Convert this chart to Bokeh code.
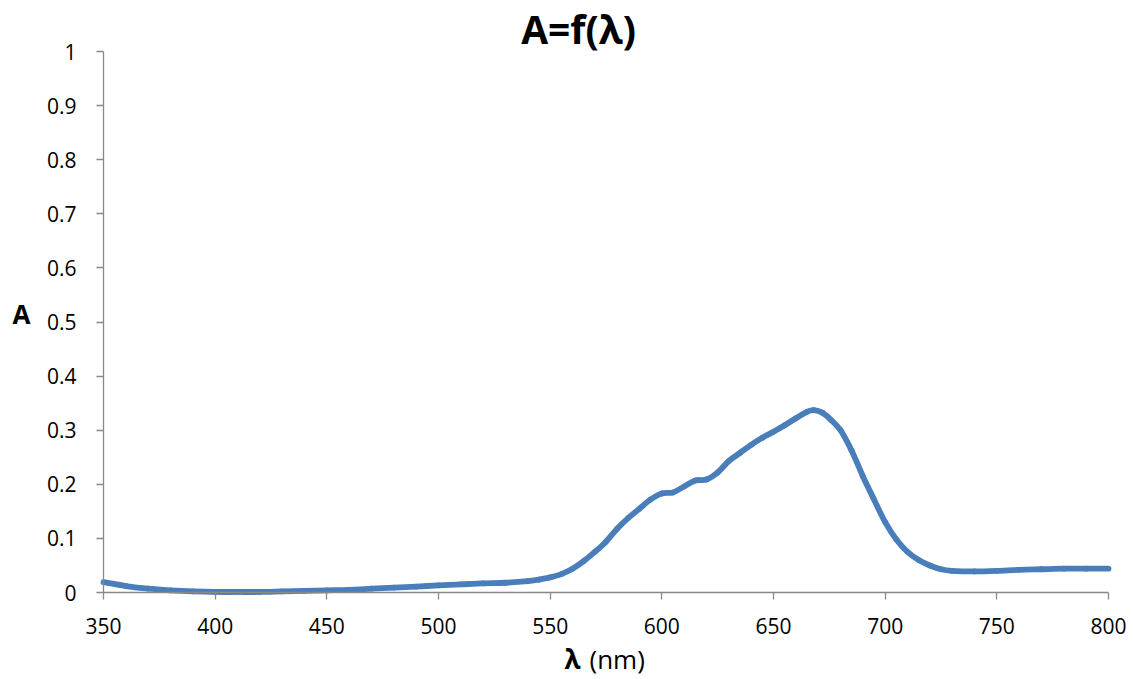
from bokeh.plotting import figure
from bokeh.models import Range1d, FixedTicker, Label
from bokeh.embed import file_html
from bokeh.resources import INLINE

# ---- data ----
wavelength = [350, 360, 370, 380, 390, 400, 410, 420, 430, 440, 450, 460, 470, 480,
              490, 500, 510, 520, 530, 540, 545, 550, 555, 560, 565, 570, 575, 580,
              585, 590, 595, 600, 605, 610, 615, 620, 625, 630, 635, 640, 645, 650,
              655, 660, 665, 668, 672, 676, 680, 685, 690, 695, 700, 705, 710, 715,
              720, 725, 730, 740, 750, 760, 770, 780, 790, 800]
absorbance = [0.019, 0.012, 0.007, 0.004, 0.002, 0.001, 0.001, 0.001, 0.002, 0.003,
              0.004, 0.005, 0.007, 0.009, 0.011, 0.013, 0.015, 0.017, 0.018, 0.021,
              0.024, 0.028, 0.034, 0.044, 0.058, 0.075, 0.094, 0.118, 0.138, 0.155,
              0.172, 0.183, 0.185, 0.196, 0.207, 0.209, 0.222, 0.243, 0.258, 0.273,
              0.286, 0.297, 0.309, 0.322, 0.334, 0.337, 0.332, 0.318, 0.300, 0.262,
              0.215, 0.172, 0.130, 0.098, 0.075, 0.060, 0.050, 0.043, 0.040, 0.039,
              0.040, 0.042, 0.043, 0.044, 0.044, 0.044]
x_ticks = [350, 400, 450, 500, 550, 600, 650, 700, 750, 800]
y_ticks = [0, 0.1, 0.2, 0.3, 0.4, 0.5, 0.6, 0.7, 0.8, 0.9, 1]
y_tick_labels = ["0", "0.1", "0.2", "0.3", "0.4", "0.5", "0.6", "0.7", "0.8", "0.9", "1"]
title_text = "A=f(λ)"
x_label_symbol = "λ"
x_label_unit = "(nm)"
y_label_text = "A"

FONT = "Open Sans"
AXIS_GRAY = "#898989"
LINE_BLUE = "#4a7ebb"

# ---- geometry: plot area of the reference in canvas pixels ----
W, H = 1133, 679
AX_LEFT, AX_RIGHT, AX_TOP, AX_BOTTOM = 103, 1108, 51, 592
X0, X1, Y0, Y1 = 350, 800, 0, 1
px_x = (AX_RIGHT - AX_LEFT) / (X1 - X0)
px_y = (AX_BOTTOM - AX_TOP) / (Y1 - Y0)
x_start = X0 - AX_LEFT / px_x
x_end = X1 + (W - AX_RIGHT) / px_x
y_start = Y0 - (H - AX_BOTTOM) / px_y
y_end = Y1 + AX_TOP / px_y


def dx(px):
    return X0 + (px - AX_LEFT) / px_x


def dy(py):
    return Y0 + (AX_BOTTOM - py) / px_y


p = figure(width=W, height=H, output_backend="svg", toolbar_location=None,
           x_range=Range1d(x_start, x_end), y_range=Range1d(y_start, y_end),
           min_border=0, title=None)
p.outline_line_color = None
p.xgrid.visible = False
p.ygrid.visible = False
p.background_fill_color = "white"
p.border_fill_color = "white"

# smoothed line (Catmull-Rom -> cubic Bezier, like a spreadsheet "smoothed line")
n = len(wavelength)
x0s, y0s, x1s, y1s, cx0, cy0, cx1, cy1 = [], [], [], [], [], [], [], []
for i in range(n - 1):
    xa, ya = wavelength[i], absorbance[i]
    xb, yb = wavelength[i + 1], absorbance[i + 1]
    xp, yp = (wavelength[i - 1], absorbance[i - 1]) if i > 0 else (xa, ya)
    xn, yn = (wavelength[i + 2], absorbance[i + 2]) if i + 2 < n else (xb, yb)
    x0s.append(xa); y0s.append(ya); x1s.append(xb); y1s.append(yb)
    cx0.append(xa + (xb - xp) / 6.0); cy0.append(ya + (yb - yp) / 6.0)
    cx1.append(xb - (xn - xa) / 6.0); cy1.append(yb - (yn - ya) / 6.0)
p.bezier(x0=x0s, y0=y0s, x1=x1s, y1=y1s, cx0=cx0, cy0=cy0, cx1=cx1, cy1=cy1,
         line_color=LINE_BLUE, line_width=5.8, line_cap="round", line_join="round")

for ax in (p.xaxis[0], p.yaxis[0]):
    ax.axis_line_color = AXIS_GRAY
    ax.axis_line_width = 1.3
    ax.major_tick_line_color = AXIS_GRAY
    ax.major_tick_line_width = 1.3
    ax.major_tick_out = 7
    ax.major_tick_in = 0
    ax.minor_tick_line_color = None
    ax.major_label_text_font = FONT
    ax.major_label_text_font_size = "21px"
    ax.major_label_text_color = "#000000"

p.xaxis[0].fixed_location = Y0
p.xaxis[0].bounds = (X0, X1)
p.xaxis[0].ticker = FixedTicker(ticks=x_ticks)
p.xaxis[0].major_label_standoff = 18
p.yaxis[0].fixed_location = X0
p.yaxis[0].bounds = (Y0, Y1)
p.yaxis[0].ticker = FixedTicker(ticks=y_ticks)
p.yaxis[0].major_label_overrides = {t: l for t, l in zip(y_ticks, y_tick_labels)}
p.yaxis[0].major_label_standoff = 20

# title
p.add_layout(Label(x=dx(578), y=dy(28), text=title_text, text_align="center",
                   text_baseline="alphabetic", text_font=FONT,
                   text_font_size="39px", text_font_style="bold",
                   text_color="#000000"))
# y axis label
p.add_layout(Label(x=dx(12), y=dy(313), text=y_label_text, text_align="left",
                   text_baseline="alphabetic", text_font=FONT,
                   text_font_size="26px", text_font_style="bold",
                   text_color="#000000"))
# x axis label (bold symbol + normal unit)
p.add_layout(Label(x=dx(564), y=dy(658), text=x_label_symbol, text_align="left",
                   text_baseline="alphabetic", text_font=FONT,
                   text_font_size="26px", text_font_style="bold",
                   text_color="#000000"))
p.add_layout(Label(x=dx(589), y=dy(658), text=x_label_unit, text_align="left",
                   text_baseline="alphabetic", text_font=FONT,
                   text_font_size="26px", text_font_style="normal",
                   text_color="#000000"))

open("out.html", "w").write(file_html(p, INLINE))
